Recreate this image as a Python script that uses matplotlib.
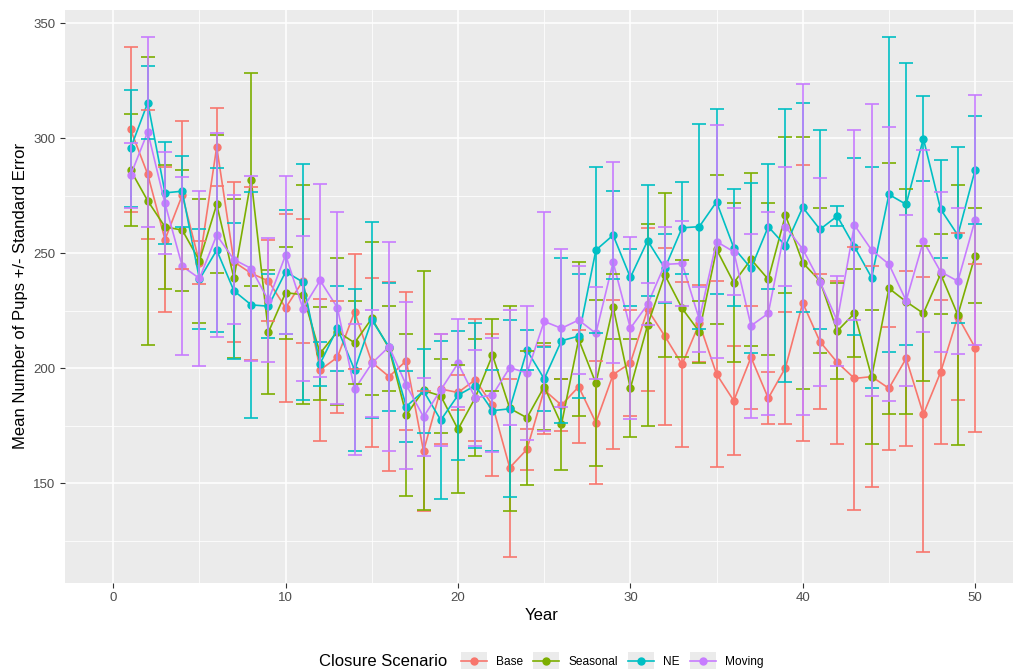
import numpy as np
import matplotlib.pyplot as plt
from matplotlib.lines import Line2D
from matplotlib.patches import Rectangle
from matplotlib.legend_handler import HandlerLine2D

plt.rcParams['font.family'] = ['Liberation Sans', 'DejaVu Sans']

years = list(range(1, 51))
scenarios = ["Base", "Seasonal", "NE", "Moving"]
colors = ["#F8766D", "#7CAE00", "#00BFC4", "#C77CFF"]

# mean number of pups per scenario
base_mean = [303.9, 284.3, 256.0, 275.3, 246.0, 296.3, 246.3, 241.3, 238.0, 226.3,
             238.0, 199.3, 204.8, 224.5, 202.6, 196.4, 203.3, 164.0, 191.0, 189.5,
             195.0, 184.0, 156.8, 164.8, 190.6, 184.0, 192.0, 176.4, 197.3, 202.3,
             225.6, 214.0, 201.7, 219.5, 197.5, 185.9, 204.8, 187.0, 200.3, 228.5,
             211.6, 202.6, 195.6, 196.4, 191.3, 204.3, 180.0, 198.3, 222.5, 209.0]
seasonal_mean = [286.2, 272.8, 261.5, 260.1, 246.8, 271.3, 239.1, 282.1, 215.7, 232.9,
                 232.0, 206.5, 216.0, 211.1, 221.7, 208.7, 179.7, 190.4, 188.0, 173.5,
                 187.2, 205.8, 182.6, 178.5, 192.0, 175.6, 212.6, 193.5, 226.8, 191.3,
                 218.8, 240.6, 226.1, 215.9, 251.7, 237.2, 247.4, 238.7, 266.6, 245.9,
                 238.0, 216.2, 223.9, 196.2, 234.8, 229.0, 223.9, 241.0, 223.2, 248.9]
ne_mean = [295.6, 315.5, 276.3, 277.0, 238.7, 251.4, 233.7, 227.6, 227.0, 242.0,
           237.5, 202.0, 217.4, 199.3, 221.0, 209.3, 183.4, 190.2, 177.5, 188.3,
           192.5, 181.6, 182.4, 207.9, 195.4, 212.0, 214.0, 251.4, 257.9, 239.5,
           255.5, 243.5, 261.1, 261.6, 272.4, 252.4, 243.5, 261.6, 253.3, 270.0,
           260.4, 266.2, 252.9, 239.4, 275.6, 271.3, 299.9, 269.2, 257.9, 286.2]
moving_mean = [283.9, 302.8, 271.7, 244.4, 239.1, 257.9, 247.3, 243.4, 229.6, 249.3,
               226.0, 238.2, 226.4, 190.8, 202.2, 209.4, 192.7, 178.9, 190.6, 202.2,
               187.2, 188.4, 200.3, 198.0, 220.4, 217.4, 221.0, 215.2, 246.1, 217.4,
               227.8, 245.2, 245.6, 221.3, 255.1, 250.7, 218.5, 223.9, 261.6, 251.8,
               237.6, 220.7, 262.3, 251.4, 245.3, 229.4, 255.3, 242.0, 237.9, 264.4]

# standard errors
base_se = [36.0, 28.0, 31.5, 32.3, 9.5, 17.1, 34.9, 37.6, 17.6, 41.0,
           27.0, 31.0, 24.4, 25.0, 36.6, 41.0, 30.0, 26.0, 24.0, 7.5,
           26.5, 31.0, 38.7, 9.0, 19.0, 11.2, 24.6, 26.7, 32.3, 23.0,
           35.5, 38.5, 36.0, 16.8, 40.3, 23.6, 22.3, 11.4, 24.3, 60.0,
           29.2, 35.5, 57.0, 47.9, 26.8, 38.0, 59.8, 31.4, 36.3, 36.5]
seasonal_se = [24.3, 62.5, 27.0, 26.3, 27.0, 30.0, 34.4, 46.4, 27.0, 20.0,
               47.7, 20.2, 32.0, 18.1, 33.3, 18.4, 35.2, 52.0, 16.0, 27.8,
               25.4, 15.7, 44.5, 29.2, 19.0, 19.6, 33.5, 36.0, 14.0, 21.3,
               43.8, 35.5, 21.0, 13.5, 32.3, 34.5, 37.6, 33.0, 34.0, 54.8,
               31.5, 21.0, 19.1, 29.1, 54.5, 49.0, 29.3, 17.4, 56.6, 20.6]
ne_se = [25.6, 16.0, 22.2, 15.4, 21.8, 35.5, 29.7, 49.1, 14.0, 27.0,
         51.2, 9.6, 18.4, 35.2, 42.5, 28.0, 15.6, 18.2, 34.5, 28.1,
         27.0, 17.7, 38.4, 8.7, 14.0, 35.8, 27.0, 36.0, 19.2, 12.2,
         24.0, 15.0, 20.0, 44.5, 40.2, 25.4, 37.0, 27.2, 59.3, 45.3,
         43.2, 4.4, 38.6, 48.0, 68.6, 61.3, 18.3, 21.2, 38.4, 23.5]
moving_se = [14.0, 41.4, 22.2, 38.7, 37.9, 44.4, 27.9, 40.2, 27.0, 34.2,
             31.6, 41.9, 41.7, 28.3, 23.3, 45.4, 36.3, 16.8, 24.3, 19.2,
             20.8, 24.7, 25.0, 29.1, 47.7, 34.3, 23.5, 20.0, 43.7, 39.6,
             9.1, 16.4, 18.6, 14.0, 50.5, 18.8, 40.0, 44.2, 26.0, 72.0,
             45.2, 19.6, 41.3, 63.5, 59.7, 37.2, 39.5, 34.8, 31.6, 54.4]

means = [base_mean, seasonal_mean, ne_mean, moving_mean]
ses = [base_se, seasonal_se, ne_se, moving_se]


# legend key with grey background, like ggplot
class KeyHandler(HandlerLine2D):
    def create_artists(self, legend, orig_handle, xdescent, ydescent,
                       width, height, fontsize, trans):
        arts = super().create_artists(legend, orig_handle, xdescent, ydescent,
                                      width, height, fontsize, trans)
        pad = 3
        bg = Rectangle((-xdescent, -ydescent - pad), width, height + 2 * pad,
                       facecolor="#EBEBEB", edgecolor="none", transform=trans)
        return [bg] + list(arts)


fig = plt.figure(figsize=(10.13, 6.71), dpi=100)
ax = fig.add_axes([0.0642, 0.1316, 0.9358, 0.8535])
ax.set_facecolor("#EBEBEB")

# lines + points
for m, c in zip(means, colors):
    ax.plot(years, m, color=c, lw=1.2, marker="o", ms=5, zorder=3)
# error bars
for m, s, c in zip(means, ses, colors):
    ax.errorbar(years, m, yerr=s, fmt="none", ecolor=c, elinewidth=1.2,
                capsize=4.7, capthick=1.2, zorder=4)

ax.set_xlim(-2.8, 52.2)
ax.set_ylim(106.8, 355.8)
ax.set_xticks([0, 10, 20, 30, 40, 50])
ax.set_xticks([5, 15, 25, 35, 45], minor=True)
ax.set_yticks([150, 200, 250, 300, 350])
ax.set_yticks([125, 175, 225, 275, 325], minor=True)
ax.grid(which="major", color="white", lw=1.1)
ax.grid(which="minor", color="white", lw=0.55)
ax.set_axisbelow(True)
for sp in ax.spines.values():
    sp.set_visible(False)
ax.tick_params(which="major", length=3.5, color="#333333", labelsize=9.5,
               labelcolor="#4D4D4D")
ax.tick_params(which="minor", length=0)

ax.set_ylabel("Mean Number of Pups +/- Standard Error", fontsize=12)
fig.text(542 / 1013, 1 - 615 / 671, "Year", fontsize=12, ha="center", va="center")

# legend at bottom
handles = [Line2D([], [], color=c, lw=1.2, marker="o", ms=5) for c in colors]
fig.text(0.315, 1 - 662 / 671, "Closure Scenario", fontsize=12, va="center", ha="left")
fig.legend(handles, scenarios, loc="center left",
           bbox_to_anchor=(0.444, 1 - 662 / 671),
           ncol=4, frameon=False, fontsize=8.6, handlelength=2.2,
           columnspacing=0.85, handletextpad=0.75,
           handler_map={Line2D: KeyHandler()})

fig.savefig("out.png", dpi=100)
